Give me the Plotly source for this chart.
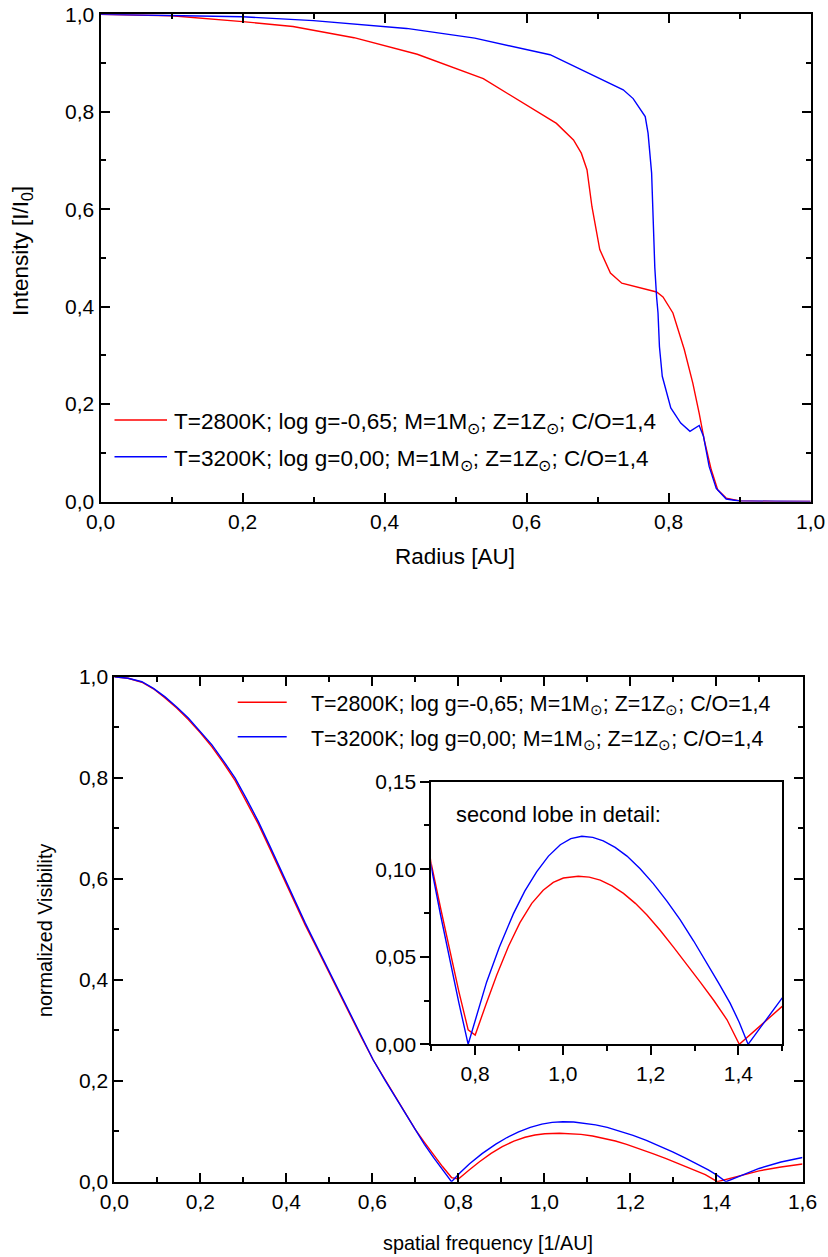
import plotly.graph_objects as go

W, H = 828, 1257

# ---------------- data: intensity profile (top) ----------------
r_2800 = [0.0, 0.1, 0.2, 0.271, 0.357, 0.422, 0.446, 0.539, 0.626, 0.642, 0.666, 0.677,
          0.685, 0.692, 0.703, 0.718, 0.734, 0.755, 0.783, 0.792, 0.806, 0.822, 0.834,
          0.843, 0.850, 0.860, 0.869, 0.881, 0.900, 0.950, 1.0]
I_2800 = [1.0, 0.997, 0.985, 0.975, 0.952, 0.926, 0.918, 0.868, 0.791, 0.776, 0.742, 0.715,
          0.681, 0.605, 0.517, 0.469, 0.448, 0.440, 0.430, 0.420, 0.387, 0.312, 0.243,
          0.181, 0.127, 0.065, 0.024, 0.007, 0.001, 0.0, 0.0]

r_3200 = [0.0, 0.2, 0.3, 0.431, 0.527, 0.633, 0.736, 0.750, 0.767, 0.771, 0.776, 0.7805,
          0.783, 0.785, 0.787, 0.791, 0.803, 0.817, 0.830, 0.838, 0.843, 0.849, 0.857,
          0.867, 0.881, 0.900, 0.950, 1.0]
I_3200 = [1.0, 0.995, 0.987, 0.971, 0.951, 0.917, 0.845, 0.827, 0.790, 0.756, 0.674, 0.480,
          0.420, 0.387, 0.318, 0.257, 0.192, 0.161, 0.144, 0.151, 0.156, 0.134, 0.072,
          0.027, 0.005, 0.001, 0.0, 0.0]

# ---------------- data: visibility (bottom + inset) ----------------
u_2800 = [0.0, 0.032, 0.064, 0.091, 0.118, 0.145, 0.172, 0.200, 0.227, 0.254, 0.281, 0.308,
          0.335, 0.362, 0.389, 0.416, 0.444, 0.469, 0.494, 0.521, 0.548, 0.575, 0.602, 0.630,
          0.657, 0.680, 0.700, 0.721, 0.742, 0.763, 0.784, 0.800, 0.825, 0.849, 0.876, 0.902,
          0.929, 0.955, 0.978, 1.001, 1.035, 1.060, 1.085, 1.112, 1.138, 1.165, 1.191, 1.222,
          1.252, 1.283, 1.313, 1.344, 1.374, 1.402, 1.450, 1.499, 1.550, 1.600]
V_2800 = [1.0, 0.997, 0.989, 0.976, 0.958, 0.938, 0.915, 0.889, 0.861, 0.829, 0.794, 0.752,
          0.708, 0.659, 0.609, 0.557, 0.508, 0.466, 0.423, 0.377, 0.331, 0.285, 0.241, 0.201,
          0.163, 0.131, 0.103, 0.078, 0.053, 0.030, 0.0082, 0.0053, 0.0230, 0.0395, 0.0560,
          0.0695, 0.0805, 0.0880, 0.0925, 0.0950, 0.0960, 0.0955, 0.0938, 0.0905, 0.0862,
          0.0805, 0.0740, 0.0650, 0.0555, 0.0455, 0.0355, 0.0250, 0.0140, 0.0, 0.0105,
          0.0215, 0.029, 0.035]

u_3200 = [0.0, 0.032, 0.064, 0.091, 0.118, 0.145, 0.172, 0.200, 0.227, 0.254, 0.281, 0.308,
          0.335, 0.362, 0.389, 0.416, 0.444, 0.469, 0.494, 0.521, 0.548, 0.575, 0.602, 0.630,
          0.657, 0.680, 0.700, 0.721, 0.742, 0.763, 0.784, 0.805, 0.826, 0.855, 0.887, 0.913,
          0.940, 0.967, 0.994, 1.018, 1.043, 1.068, 1.092, 1.119, 1.146, 1.176, 1.206, 1.237,
          1.267, 1.298, 1.328, 1.355, 1.381, 1.402, 1.422, 1.460, 1.499, 1.550, 1.600]
V_3200 = [1.0, 0.997, 0.990, 0.977, 0.960, 0.940, 0.918, 0.892, 0.865, 0.833, 0.799, 0.757,
          0.713, 0.664, 0.614, 0.562, 0.512, 0.469, 0.426, 0.379, 0.333, 0.286, 0.241, 0.200,
          0.162, 0.129, 0.101, 0.074, 0.048, 0.0235, 0.0, 0.0185, 0.0355, 0.0555, 0.0745,
          0.0875, 0.0985, 0.1075, 0.1140, 0.1175, 0.1188, 0.1182, 0.1162, 0.1125, 0.1075,
          0.1003, 0.0918, 0.0818, 0.0712, 0.0590, 0.0465, 0.0350, 0.0235, 0.0125, 0.0,
          0.013, 0.0262, 0.039, 0.048]

label_2800 = "T=2800K; log g=-0,65; M=1M<sub>⊙</sub>; Z=1Z<sub>⊙</sub>; C/O=1,4"
label_3200 = "T=3200K; log g=0,00; M=1M<sub>⊙</sub>; Z=1Z<sub>⊙</sub>; C/O=1,4"
RED, BLUE = "#ff0000", "#0000ff"

FONT = "Arial, Liberation Sans, sans-serif"
FS = 21          # tick labels
FS_TOP = 22.5    # top panel titles / legend
FS_BOT_LEG = 21.4
FS_BOT_TTL = 19.8
FS_INSET = 21.8


def px(x):
    return x / W


def py(y):
    return 1 - y / H


fig = go.Figure()
for xs, ys, c, xa, ya in [(r_2800, I_2800, RED, "x", "y"), (r_3200, I_3200, BLUE, "x", "y"),
                          (u_2800, V_2800, RED, "x2", "y2"), (u_3200, V_3200, BLUE, "x2", "y2"),
                          (u_2800, V_2800, RED, "x3", "y3"), (u_3200, V_3200, BLUE, "x3", "y3")]:
    fig.add_trace(go.Scatter(x=xs, y=ys, mode="lines", line=dict(color=c, width=1.4),
                             xaxis=xa, yaxis=ya, showlegend=False, hoverinfo="skip"))


def main_axis(domain, rng, dtick, minor, anchor):
    return dict(domain=domain, range=rng, dtick=dtick, tick0=0, tickformat=".1f",
                ticks="inside", ticklen=9, tickwidth=1.5, tickcolor="black",
                mirror="allticks", showline=True, linewidth=2, linecolor="black",
                minor=dict(ticks="inside", ticklen=5, dtick=minor, tick0=0,
                           tickwidth=1.5, tickcolor="black", showgrid=False),
                showgrid=False, zeroline=False, anchor=anchor, automargin=False,
                tickfont=dict(family=FONT, size=FS, color="black"))


def inset_axis(domain, rng, dtick, minor, anchor, fmt):
    return dict(domain=domain, range=rng, dtick=dtick, tick0=0, tickformat=fmt,
                ticks="outside", ticklen=9, tickwidth=1.5, tickcolor="black",
                mirror=True, showline=True, linewidth=2, linecolor="black",
                minor=dict(ticks="outside", ticklen=5, dtick=minor, tick0=0,
                           tickwidth=1.5, tickcolor="black", showgrid=False),
                showgrid=False, zeroline=False, anchor=anchor, automargin=False,
                tickfont=dict(family=FONT, size=FS, color="black"))


fig.update_layout(
    template="none",
    width=W, height=H, margin=dict(l=0, r=0, t=0, b=0, pad=0, autoexpand=False),
    paper_bgcolor="white", plot_bgcolor="white", separators=", ",
    font=dict(family=FONT, size=FS, color="black"),
    xaxis=main_axis([px(100.5), px(810.7)], [0, 1], 0.2, 0.1, "y"),
    yaxis=main_axis([py(501.5), py(14.3)], [0, 1], 0.2, 0.1, "x"),
    xaxis2=main_axis([px(114.3), px(802.5)], [0, 1.6], 0.2, 0.1, "y2"),
    yaxis2=main_axis([py(1181.7), py(676.7)], [0, 1], 0.2, 0.1, "x2"),
    xaxis3=inset_axis([px(431.3), px(782.3)], [0.7, 1.5], 0.2, 0.1, "y3", ".1f"),
    yaxis3=inset_axis([py(1044.3), py(781.7)], [0, 0.15], 0.05, 0.025, "x3", ".2f"),
)

ann = []


def text(x, y, s, size, xa="center", ya="middle", angle=0):
    ann.append(dict(x=px(x), y=py(y), xref="paper", yref="paper", text=s, showarrow=False,
                    xanchor=xa, yanchor=ya, textangle=angle,
                    font=dict(family=FONT, size=size, color="black")))


text(455, 556, "Radius [AU]", FS_TOP)
text(22, 251, "Intensity [I/I<sub>0</sub>]", FS_TOP, angle=-90)
text(488, 1243, "spatial frequency [1/AU]", FS_BOT_TTL)
text(45, 931, "normalized Visibility", FS_BOT_TTL, angle=-90)
text(454, 814, "second lobe in detail:", FS_INSET, xa="left")

shapes = []


def leg(x0, x1, y, color, tx, label, size):
    shapes.append(dict(type="line", xref="paper", yref="paper", x0=px(x0), x1=px(x1),
                       y0=py(y), y1=py(y), line=dict(color=color, width=1.4)))
    text(tx, y + 3, label, size, xa="left")


leg(114.5, 167, 420, RED, 172, label_2800, FS_TOP)
leg(114.5, 167, 456.7, BLUE, 172, label_3200, FS_TOP)
leg(237.7, 286.7, 702.3, RED, 309, label_2800, FS_BOT_LEG)
leg(237.7, 286.7, 736.7, BLUE, 309, label_3200, FS_BOT_LEG)

fig.update_layout(annotations=ann, shapes=shapes)
fig.write_html("out.html")
